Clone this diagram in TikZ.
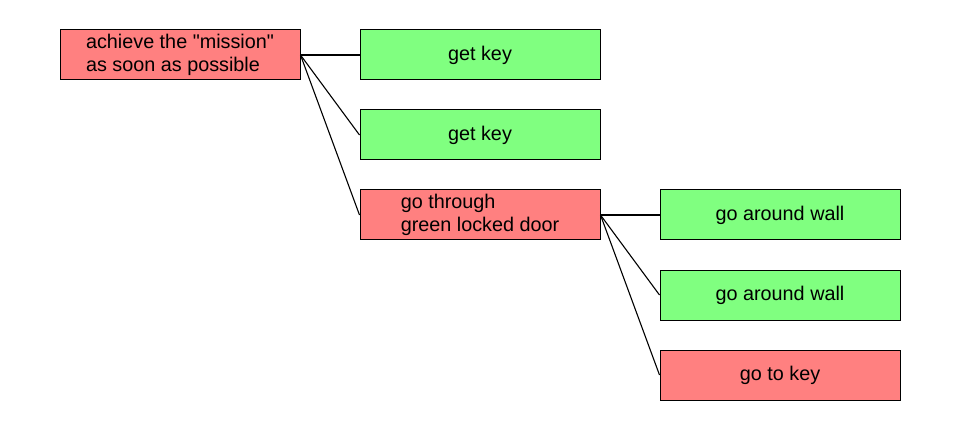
\documentclass[tikz,border=0pt]{standalone}
\usepackage{fontspec}
\setmainfont{Liberation Sans}[Ligatures=TeXOff]
\usepackage{tikz}
\usepackage{xcolor}
\usetikzlibrary{positioning}

\definecolor{goalred}{RGB}{255,128,128}
\definecolor{goalgreen}{RGB}{128,255,128}

\tikzset{
    goal/.style={draw, line width=1pt, minimum width=240pt, minimum height=50pt, inner sep=0pt, align=left, font=\fontsize{19.8}{22.8}\selectfont},
    redgoal/.style={goal, fill=goalred},
    greengoal/.style={goal, fill=goalgreen},
    link/.style={line width=1.1pt}
}

\begin{document}
\begin{tikzpicture}[x=1pt, y=1pt]
\useasboundingbox (0, 0) rectangle (960, -430);

\node[redgoal] (mission) at (180, -55) {achieve the "mission"\\as soon as possible};

\node[greengoal] (key1) at (480, -55) {get key};
\node[greengoal] (key2) at (480, -135) {get key};
\node[redgoal] (door) at (480, -215) {go through\\green locked door};

\node[greengoal] (wall1) at (780, -215) {go around wall};
\node[greengoal] (wall2) at (780, -295) {go around wall};
\node[redgoal] (tokey) at (780, -375) {go to key};

\foreach \v in {key1, key2, door}
    \draw[link] (mission.east) -- (\v.west);

\foreach \v in {wall1, wall2, tokey}
    \draw[link] (door.east) -- (\v.west);
\end{tikzpicture}
\end{document}
